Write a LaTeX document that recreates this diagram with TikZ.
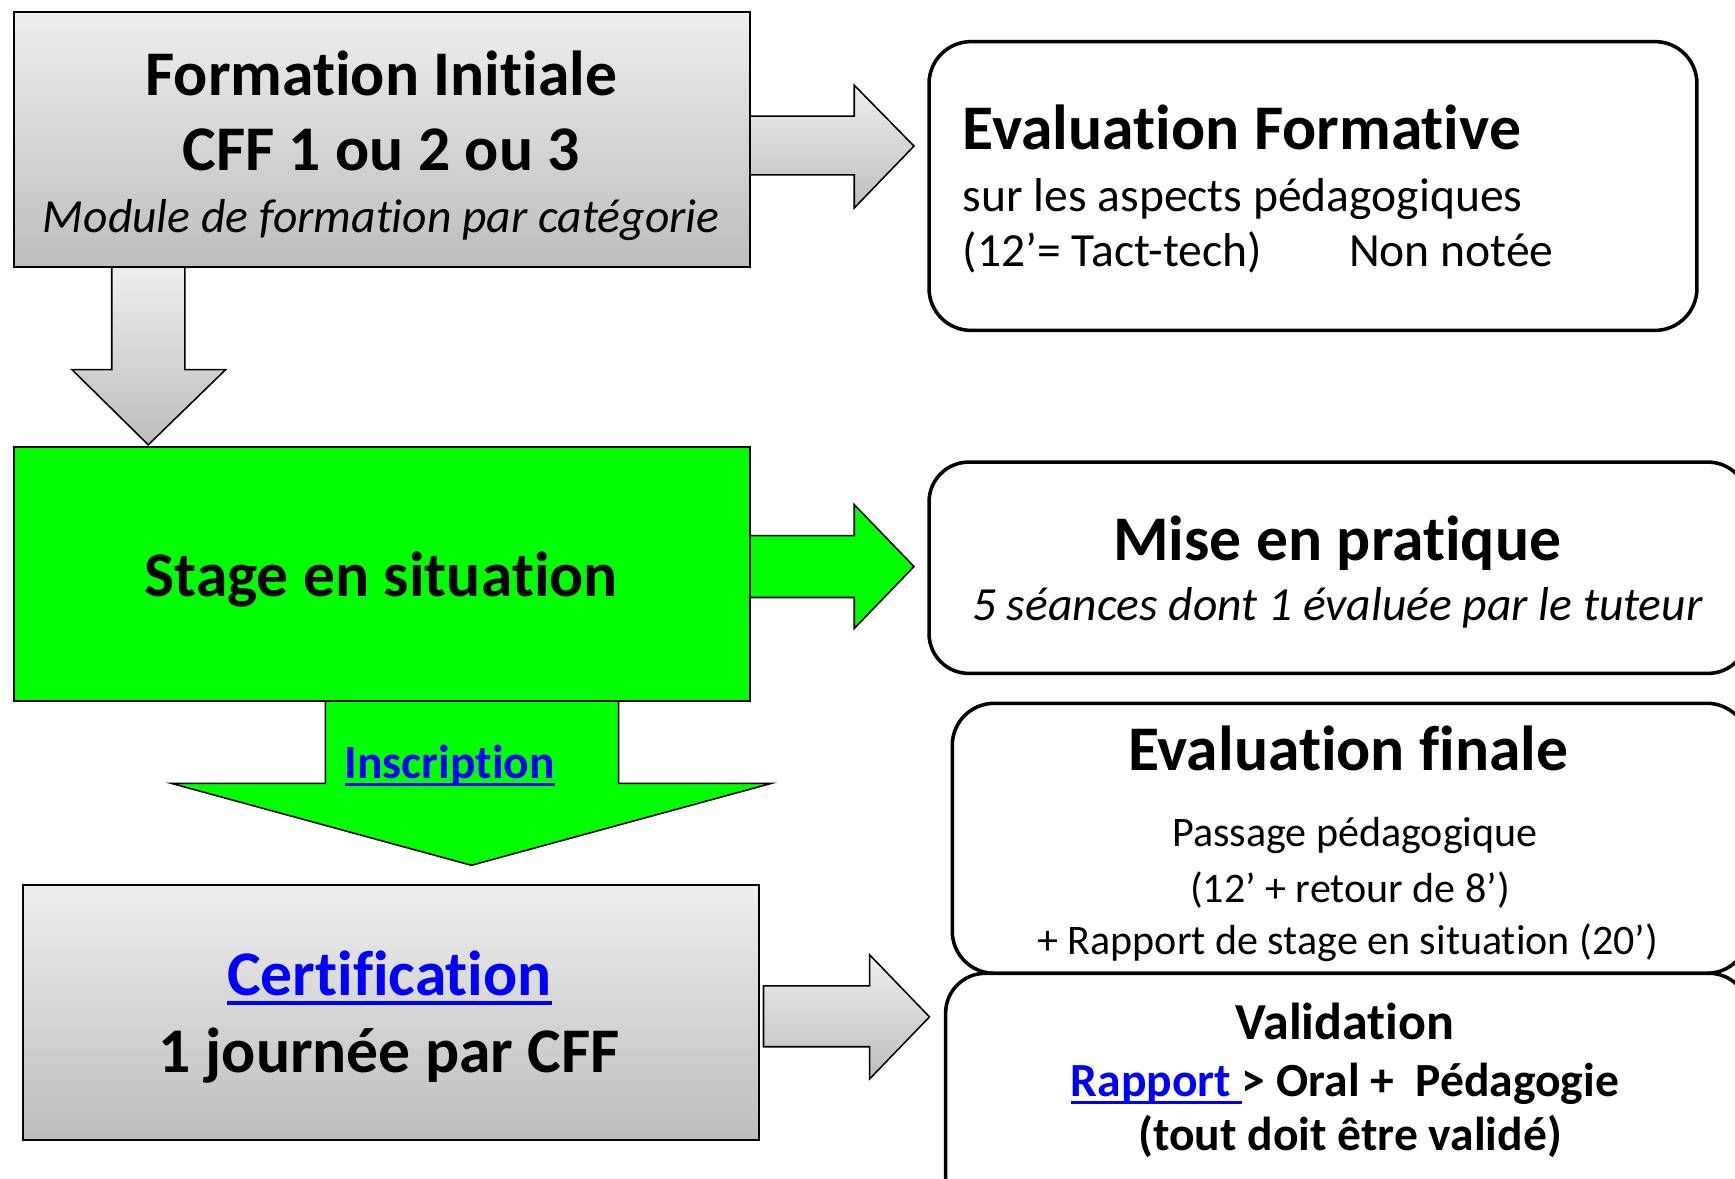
\documentclass[tikz,border=0pt]{standalone}
\usepackage{fontspec}
\setmainfont[Ligatures=NoCommon]{Carlito}
\definecolor{gtop}{HTML}{EEEEEE}
\definecolor{gbot}{HTML}{BDBDBD}
\definecolor{vert}{HTML}{00FF00}
\definecolor{lien}{HTML}{0000FF}
\newcommand{\fTitle}{\fontsize{57.5}{66}\selectfont\bfseries}
\newcommand{\fBody}{\fontsize{43}{52}\selectfont}
\newcommand{\fSmall}{\fontsize{38}{46}\selectfont}
\newcommand{\fVal}{\fontsize{47}{56}\selectfont\bfseries}
\newcommand{\lienul}[1]{\setbox0=\hbox{#1}\leavevmode\rlap{\rule[-0.15em]{\wd0}{0.065em}}\box0}
\begin{document}
\begin{tikzpicture}[x=1pt,y=-1pt,
  graybox/.style={draw=black, line width=1.8pt, top color=gtop, bottom color=gbot, inner sep=0pt},
  greenbox/.style={draw=black, line width=1.8pt, fill=vert, inner sep=0pt},
  roundbox/.style={draw=black, line width=3.2pt, fill=white, rounded corners=38pt, inner sep=0pt},
  grayarrow/.style={draw=black, line width=1.4pt, top color=gtop, bottom color=gbot},
  greenarrow/.style={draw=black, line width=1.4pt, fill=vert},
  txt/.style={anchor=base, inner sep=0pt}]
\useasboundingbox (0,0) rectangle (1568,1065);
\clip (0,0) rectangle (1568,1065);

% arrows
\path[grayarrow] (677,105) -- (772,105) -- (772,77) -- (826,132) -- (772,188) -- (772,158) -- (677,158) -- cycle;
\path[grayarrow] (101,240) -- (101,334) -- (65,334) -- (134,402) -- (204,334) -- (167,334) -- (167,240) -- cycle;
\path[greenarrow] (677,484) -- (772,484) -- (772,456) -- (826,512) -- (772,568) -- (772,540) -- (677,540) -- cycle;
\path[greenarrow] (294,633) -- (294,708) -- (155,708) -- (426,782) -- (697,708) -- (559,708) -- (559,633) -- cycle;
\path[grayarrow] (690,891) -- (786,891) -- (786,863) -- (840,919) -- (786,975) -- (786,946) -- (690,946) -- cycle;

% left boxes
\node[graybox, anchor=north west, minimum width=665pt, minimum height=230pt] (fi) at (12,10) {};
\node[greenbox, anchor=north west, minimum width=665pt, minimum height=230pt] (st) at (12,403) {};
\node[graybox, anchor=north west, minimum width=665pt, minimum height=230pt] (ce) at (20,799) {};

% right boxes
\node[roundbox, anchor=north west, minimum width=694pt, minimum height=261pt] (ef) at (838,36) {};
\node[roundbox, rounded corners=36pt, anchor=north west, minimum width=740pt, minimum height=191pt] (mp) at (838,416) {};
\node[roundbox, anchor=north west, minimum width=720pt, minimum height=244pt] (fin) at (859,634) {};
\node[roundbox, rounded corners=36pt, anchor=north west, minimum width=726pt, minimum height=220pt] (va) at (853,878) {};

% texts box 1
\node[txt, font=\fTitle] (fi1) at (344.5,86) {Formation Initiale};
\node[txt, font=\fTitle] (fi2) at (344.5,154) {CFF 1 ou 2 ou 3};
\node[txt, font=\fBody\itshape] (fi3) at (344.5,210) {Module de formation par catégorie};

% Evaluation formative
\node[txt, anchor=base west, font=\fTitle] (ef1) at (870,135) {Evaluation Formative};
\node[txt, anchor=base west, font=\fBody] (ef2) at (870,191) {sur les aspects pédagogiques};
\node[txt, anchor=base west, font=\fBody] (ef3) at (870,241) {\makebox[349pt][l]{(12’= Tact-tech)}Non notée};

% Stage
\node[txt, font=\fTitle] (st1) at (344.5,539) {Stage en situation};
\node[txt, font=\fBody\bfseries, text=lien] (ins) at (406.5,704) {\lienul{Inscription}};

% Mise en pratique
\node[txt, font=\fTitle] (mp1) at (1208.5,506.5) {Mise en pratique};
\node[txt, font=\fBody\itshape] (mp2) at (1208.5,561) {5 séances dont 1 évaluée par le tuteur};

% Evaluation finale
\node[txt, font=\fTitle] (fin1) at (1218.5,696) {Evaluation finale};
\node[txt, font=\fSmall] (fin2) at (1224.5,765) {Passage pédagogique};
\node[txt, font=\fSmall] (fin3) at (1220,816) {(12’ + retour de 8’)};
\node[txt, font=\fSmall] (fin4) at (1218,862.5) {+ Rapport de stage en situation (20’)};

% Validation
\node[txt, font=\fVal] (va1) at (1215.5,939) {Validation};
\node[txt, font=\fBody\bfseries] (va2) at (1215.5,991) {\textcolor{lien}{\lienul{Rapport\ }}> Oral +\ \ Pédagogie};
\node[txt, font=\fBody\bfseries] (va3) at (1220,1040) {(tout doit être validé)};

% Certification
\node[txt, font=\fTitle, text=lien] (ce1) at (352,900) {\lienul{Certification}};
\node[txt, font=\fTitle] (ce2) at (352,969) {1 journée par CFF};
\end{tikzpicture}
\end{document}
